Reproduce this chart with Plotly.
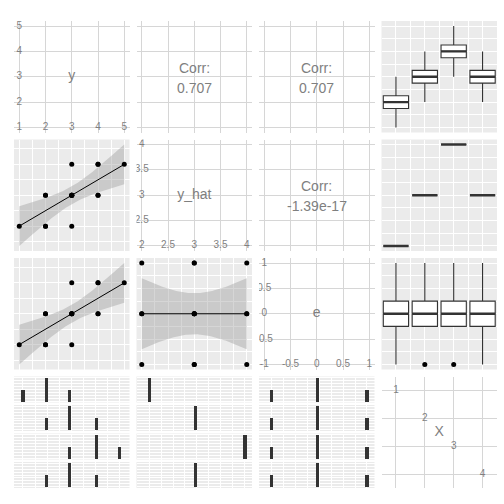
import numpy as np
import plotly.graph_objects as go

# ---------------- data ----------------
X_levels = ["1", "2", "3", "4"]
X = ["1"] * 4 + ["2"] * 4 + ["3"] * 4 + ["4"] * 4
y = [1, 2, 2, 3, 2, 3, 3, 4, 3, 4, 4, 5, 2, 3, 3, 4]
y_hat = [2, 2, 2, 2, 3, 3, 3, 3, 4, 4, 4, 4, 3, 3, 3, 3]
e = [a - b for a, b in zip(y, y_hat)]

corr_y_yhat = "0.707"
corr_y_e = "0.707"
corr_yhat_e = "-1.39e-17"
# points drawn as outliers in the e-by-X boxplot (floating point artefact in the source)
e_box_outliers = {"2": [-1], "3": [-1]}

y_breaks = [1, 2, 3, 4, 5]
y_labels = ["1", "2", "3", "4", "5"]
yhat_breaks = [2, 2.5, 3, 3.5, 4]
yhat_labels = ["2", "2.5", "3", "3.5", "4"]
e_breaks = [-1, -0.5, 0, 0.5, 1]
e_labels = ["-1", "-0.5", "0", "0.5", "1"]

T_Q = 2.144787  # t quantile 0.975, df = 14 (n = 16)

# ---------------- style ----------------
W = H = 504
FONT = "Liberation Sans, Arial, sans-serif"
GREY_BG = "#EBEBEB"
LIGHT_GRID = "#D6D6D6"
TXT = "#7F7F7F"
DARK = "#333333"

col_px = [(14, 129.5), (136.5, 252), (259, 374.5), (381.5, 497)]
row_px = [(21, 132.5), (139.5, 251), (258, 369.5), (376.5, 488)]


def xd(p):
    return [p[0] / W, p[1] / W]


def yd(p):
    return [1 - p[1] / H, 1 - p[0] / H]


def rng(lo, hi, m=0.05):
    d = hi - lo
    return [lo - m * d, hi + m * d]


layout = {}
shapes = []
annotations = []
traces = []
counter = [0]


def new_axes(xpx, ypx, xr, yr, grey, xmaj, ymaj, xmin=None, ymin=None):
    counter[0] += 1
    n = counter[0]
    s = "" if n == 1 else str(n)
    gc = "white" if grey else LIGHT_GRID
    gw = 1.1 if grey else 1
    for ax, dom, r, maj, mn, anch in (("xaxis", xd(xpx), xr, xmaj, xmin, "y" + s),
                                      ("yaxis", yd(ypx), yr, ymaj, ymin, "x" + s)):
        a = dict(domain=dom, range=r, anchor=anch, showticklabels=False, ticks="",
                 zeroline=False, showline=False, showgrid=True, gridcolor=gc,
                 gridwidth=gw, tickmode="array", tickvals=maj, fixedrange=True)
        if mn:
            a["minor"] = dict(tickmode="array", tickvals=mn, showgrid=True,
                              gridcolor=gc, gridwidth=0.55, ticks="")
        layout[ax + s] = a
    if grey:
        shapes.append(dict(type="rect", xref="x" + s + " domain", yref="y" + s + " domain",
                           x0=0, x1=1, y0=0, y1=1, fillcolor=GREY_BG, line_width=0,
                           layer="below"))
    # invisible anchor trace so the subplot is always drawn
    traces.append(go.Scatter(x=[xr[0]], y=[yr[0]], mode="markers", marker=dict(opacity=0),
                             xaxis="x" + s, yaxis="y" + s, hoverinfo="skip", showlegend=False))
    return "x" + s, "y" + s


def smooth(xv, yv, n=80):
    xv = np.asarray(xv, float)
    yv = np.asarray(yv, float)
    N = len(xv)
    xm = xv.mean()
    sxx = ((xv - xm) ** 2).sum()
    b = ((xv - xm) * (yv - yv.mean())).sum() / sxx
    a = yv.mean() - b * xm
    res = yv - (a + b * xv)
    s = np.sqrt((res ** 2).sum() / (N - 2))
    gx = np.linspace(xv.min(), xv.max(), n)
    fit = a + b * gx
    se = s * np.sqrt(1 / N + (gx - xm) ** 2 / sxx)
    return gx, fit, fit - T_Q * se, fit + T_Q * se


def text_trace(xa, ya, xs, ys, txt, size):
    traces.append(go.Scatter(x=xs, y=ys, text=txt, mode="text", xaxis=xa, yaxis=ya,
                             textposition="middle center", cliponaxis=True,
                             textfont=dict(family=FONT, size=size, color=TXT),
                             hoverinfo="skip", showlegend=False))


vars_info = {
    "y": dict(vals=y, breaks=y_breaks, labels=y_labels, range=rng(1, 5)),
    "y_hat": dict(vals=y_hat, breaks=yhat_breaks, labels=yhat_labels, range=rng(2, 4)),
    "e": dict(vals=e, breaks=e_breaks, labels=e_labels, range=rng(-1, 1)),
}
names = ["y", "y_hat", "e"]

# ---------------- diagonal continuous panels ----------------
for i, nm in enumerate(names):
    v = vars_info[nm]
    xa, ya = new_axes(col_px[i], row_px[i], v["range"], v["range"], False, v["breaks"], v["breaks"])
    b = v["breaks"]
    xs = [b[0]] * (len(b) - 1) + b
    ys = b[1:] + [b[0]] * len(b)
    tx = v["labels"][1:] + v["labels"]
    text_trace(xa, ya, xs, ys, tx, 10)
    mid = (b[0] + b[-1]) / 2
    text_trace(xa, ya, [mid], [mid], [nm], 14)

# ---------------- upper correlation panels ----------------
for (r, c, lab) in ((0, 1, corr_y_yhat), (0, 2, corr_y_e), (1, 2, corr_yhat_e)):
    vx = vars_info[names[c]]
    vy = vars_info[names[r]]
    xa, ya = new_axes(col_px[c], row_px[r], vx["range"], vy["range"], False, vx["breaks"], vy["breaks"])
    for t, sh in (("Corr:", 10), (lab, -10)):
        annotations.append(dict(x=0.5, y=0.5, xref=xa + " domain", yref=ya + " domain",
                                text=t, showarrow=False, yshift=sh - 1,
                                font=dict(family=FONT, size=14, color=TXT)))

# ---------------- lower scatter + smooth panels ----------------
scatter_specs = [
    (1, 0, [2, 3, 4], [1.5, 2.5, 3.5, 4.5]),
    (2, 0, [-1, 0, 1], [-1.5, -0.5, 0.5, 1.5]),
    (2, 1, [-1, -0.5, 0, 0.5, 1], [-0.75, -0.25, 0.25, 0.75]),
]
x_minor = {"y": [1.5, 2.5, 3.5, 4.5], "y_hat": [2.25, 2.75, 3.25, 3.75], "e": [-0.75, -0.25, 0.25, 0.75]}
for r, c, ymaj, ymin in scatter_specs:
    vx = vars_info[names[c]]
    vy = vars_info[names[r]]
    gx, fit, lo, hi = smooth(vx["vals"], vy["vals"])
    yr = rng(min(lo.min(), min(vy["vals"])), max(hi.max(), max(vy["vals"])))
    xa, ya = new_axes(col_px[c], row_px[r], vx["range"], yr, True, vx["breaks"], ymaj,
                      x_minor[names[c]], ymin)
    traces.append(go.Scatter(x=np.concatenate([gx, gx[::-1]]), y=np.concatenate([hi, lo[::-1]]),
                             fill="toself", fillcolor="rgba(153,153,153,0.4)", mode="lines",
                             line=dict(width=0), xaxis=xa, yaxis=ya, hoverinfo="skip",
                             showlegend=False))
    traces.append(go.Scatter(x=gx, y=fit, mode="lines", line=dict(color="black", width=1),
                             xaxis=xa, yaxis=ya, hoverinfo="skip", showlegend=False))
    traces.append(go.Scatter(x=vx["vals"], y=vy["vals"], mode="markers",
                             marker=dict(color="black", size=5), xaxis=xa, yaxis=ya,
                             showlegend=False, cliponaxis=False))

# ---------------- boxplots vs X (right column) ----------------
BOX_W = 0.875
box_minor = {"y": [1.5, 2.5, 3.5, 4.5], "y_hat": [2.25, 2.75, 3.25, 3.75], "e": [-0.75, -0.25, 0.25, 0.75]}
for r, nm in enumerate(names):
    v = vars_info[nm]
    xa, ya = new_axes(col_px[3], row_px[r], [0.5, 4.5], v["range"], True, [1, 2, 3, 4], v["breaks"],
                      [1.5, 2.5, 3.5], box_minor[nm])
    outs = e_box_outliers if nm == "e" else {}
    for k, lev in enumerate(X_levels):
        vals = np.array([val for val, g in zip(v["vals"], X) if g == lev], float)
        q1, med, q3 = np.percentile(vals, [25, 50, 75])
        ol = outs.get(lev, [])
        keep = [val for val in vals if val not in ol] if ol else list(vals)
        lf = min(q1, min(keep))
        uf = max(q3, max(keep))
        pos = k + 1
        traces.append(go.Box(x=[pos], q1=[q1], median=[med], q3=[q3], lowerfence=[lf],
                             upperfence=[uf], width=BOX_W, fillcolor="white",
                             line=dict(color=DARK, width=1.1), whiskerwidth=0,
                             boxpoints=False, xaxis=xa, yaxis=ya, showlegend=False,
                             hoverinfo="skip"))
        traces.append(go.Scatter(x=[pos - BOX_W / 2, pos + BOX_W / 2], y=[med, med], mode="lines",
                                 line=dict(color=DARK, width=2.4), xaxis=xa, yaxis=ya,
                                 showlegend=False, hoverinfo="skip"))
        if ol:
            traces.append(go.Scatter(x=[pos] * len(ol), y=ol, mode="markers",
                                     marker=dict(color="black", size=5), xaxis=xa, yaxis=ya,
                                     showlegend=False, hoverinfo="skip"))

# ---------------- faceted histograms (bottom row) ----------------
hist_xrange = {"y": [0.63, 5.41], "y_hat": [1.73, 4.16], "e": [-1.257, 1.157]}
hist_xmaj = {"y": [1, 2, 3, 4, 5], "y_hat": yhat_breaks, "e": e_breaks}
FH = 26.0
FGAP = (row_px[3][1] - row_px[3][0] - 4 * FH) / 3
for c, nm in enumerate(names):
    v = vars_info[nm]
    vals_all = np.array(v["vals"], float)
    lo_v, hi_v = vals_all.min(), vals_all.max()
    bw = (hi_v - lo_v) / 29
    maxc = 0
    per = []
    for lev in X_levels:
        vals = np.array([val for val, g in zip(v["vals"], X) if g == lev], float)
        idx = np.round((vals - lo_v) / bw).astype(int)
        uniq, cnt = np.unique(idx, return_counts=True)
        per.append((lo_v + uniq * bw, cnt))
        maxc = max(maxc, cnt.max())
    if maxc <= 2:
        ymaj, ymin_ = [0, 0.5, 1, 1.5, 2], [0.25, 0.75, 1.25, 1.75]
    else:
        ymaj, ymin_ = [0, 1, 2, 3, 4], [0.5, 1.5, 2.5, 3.5]
    for k, lev in enumerate(X_levels):
        top = row_px[3][0] + k * (FH + FGAP)
        xa, ya = new_axes(col_px[c], (top, top + FH), hist_xrange[nm], rng(0, maxc), True,
                          hist_xmaj[nm], ymaj, x_minor[nm], ymin_)
        centers, cnt = per[k]
        traces.append(go.Bar(x=centers, y=cnt, width=bw, marker=dict(color=DARK, line_width=0),
                             xaxis=xa, yaxis=ya, showlegend=False, hoverinfo="skip"))

# ---------------- X diagonal (discrete) ----------------
xa, ya = new_axes(col_px[3], row_px[3], [0.5, 4.5], [4.5, 0.5], False, [1, 2, 3, 4], [1, 2, 3, 4])
text_trace(xa, ya, [1, 2, 3, 4], [1, 2, 3, 4], X_levels, 10)
text_trace(xa, ya, [2.5], [2.5], ["X"], 14)

fig = go.Figure(data=traces)
fig.update_layout(**layout)
fig.update_layout(width=W, height=H, margin=dict(l=0, r=0, t=0, b=0), showlegend=False,
                  plot_bgcolor="white", paper_bgcolor="white", shapes=shapes,
                  annotations=annotations, bargap=0, font=dict(family=FONT))
fig.write_html("out.html", config={"displayModeBar": False})
